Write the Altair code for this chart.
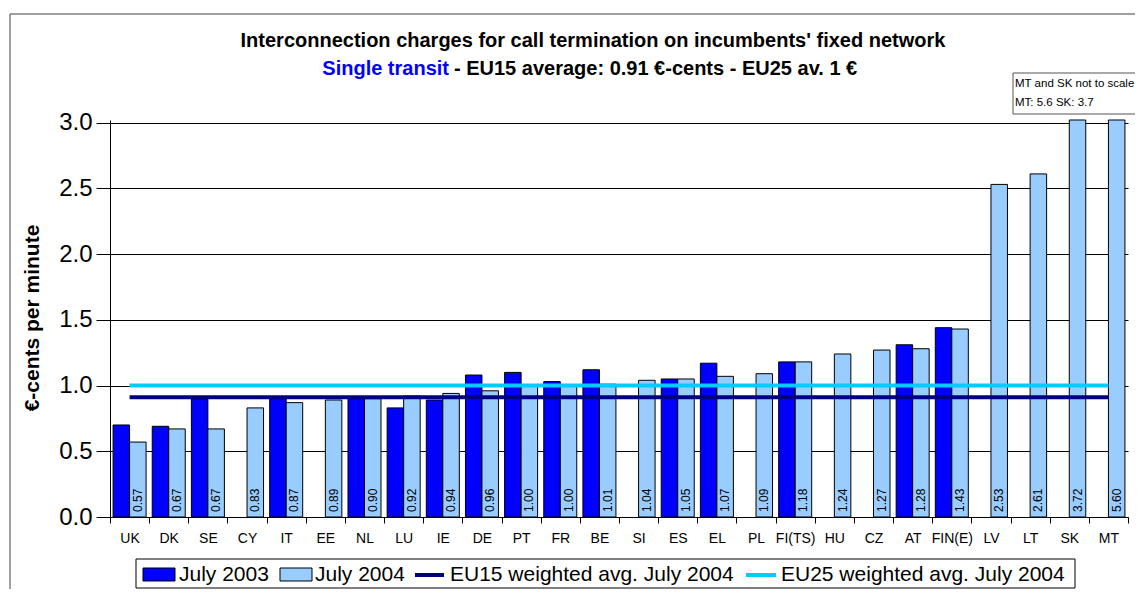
import altair as alt
import pandas as pd

countries = ["UK", "DK", "SE", "CY", "IT", "EE", "NL", "LU", "IE", "DE", "PT", "FR", "BE",
             "SI", "ES", "EL", "PL", "FI(TS)", "HU", "CZ", "AT", "FIN(E)", "LV", "LT", "SK", "MT"]
july_2003 = [0.70, 0.69, 0.90, None, 0.90, None, 0.90, 0.83, 0.89, 1.08, 1.10, 1.03, 1.12,
             None, 1.05, 1.17, None, 1.18, None, None, 1.31, 1.44, None, None, None, None]
july_2004 = [0.57, 0.67, 0.67, 0.83, 0.87, 0.89, 0.90, 0.92, 0.94, 0.96, 1.00, 1.00, 1.01,
             1.04, 1.05, 1.07, 1.09, 1.18, 1.24, 1.27, 1.28, 1.43, 2.53, 2.61, 3.72, 5.60]
years = ["July 2003", "July 2004"]
eu15_avg = 0.91
eu25_avg = 1.00
y_ticks = [0.0, 0.5, 1.0, 1.5, 2.0, 2.5, 3.0]
title_line = "Interconnection charges for call termination on incumbents' fixed network"
subtitle_blue = "Single transit"
subtitle_rest = "- EU15 average: 0.91 \u20ac-cents - EU25 av. 1 \u20ac"
note_lines = ["MT and SK not to scale", "MT: 5.6 SK: 3.7"]
legend_labels = ["July 2003", "July 2004", "EU15 weighted avg. July 2004", "EU25 weighted avg. July 2004"]

FONT = "Liberation Sans"
C2003 = "#0000FF"
C2004 = "#99CCFF"
CEU15 = "#000080"
CEU25 = "#00CCFF"

rows = []
for c, a, b in zip(countries, july_2003, july_2004):
    if a is not None:
        rows.append({"country": c, "year": years[0], "value": a})
    rows.append({"country": c, "year": years[1], "value": b})
bars_df = pd.DataFrame(rows)
lab_df = pd.DataFrame({"country": countries, "year": years[1], "value": july_2004})
avg_df = pd.DataFrame({
    "country": countries * 2,
    "series": [legend_labels[2]] * len(countries) + [legend_labels[3]] * len(countries),
    "value": [eu15_avg] * len(countries) + [eu25_avg] * len(countries),
})

x_axis = alt.Axis(title=None, labelAngle=0, labelFontSize=14, labelFont=FONT,
                  labelColor="black", tickBand="extent", tickSize=6,
                  tickColor="black", domainColor="black", labelPadding=8)
y_axis = alt.Axis(values=y_ticks, format=".1f", title=None, labelFontSize=24,
                  labelFont=FONT, labelColor="black", tickSize=14, tickColor="black",
                  domainColor="black", gridColor="black", grid=True, labelPadding=4)
x_scale = alt.Scale(paddingInner=0, paddingOuter=0)
y_scale = alt.Scale(domain=[0, 3.02], clamp=True, nice=False, zero=True)

bars = alt.Chart(bars_df).mark_bar(stroke="black", strokeWidth=1).encode(
    x=alt.X("country:N", sort=countries, scale=x_scale, axis=x_axis),
    xOffset=alt.XOffset("year:N", sort=years,
                        scale=alt.Scale(paddingInner=0, paddingOuter=0.186)),
    y=alt.Y("value:Q", scale=y_scale, axis=y_axis),
    color=alt.Color("year:N", scale=alt.Scale(domain=years, range=[C2003, C2004]), legend=None),
)

vlabels = alt.Chart(lab_df).mark_text(angle=270, align="left", baseline="middle",
                                      fontSize=12, font=FONT, color="black").encode(
    x=alt.X("country:N", sort=countries, scale=x_scale, axis=x_axis),
    xOffset=alt.XOffset("year:N", sort=years),
    y=alt.value(392),
    text=alt.Text("value:Q", format=".2f"),
)

avg_lines = alt.Chart(avg_df).mark_line(strokeWidth=4).encode(
    x=alt.X("country:N", sort=countries, scale=x_scale, axis=x_axis),
    y=alt.Y("value:Q", scale=y_scale, axis=y_axis),
    color=alt.Color("series:N", scale=alt.Scale(domain=legend_labels[2:], range=[CEU15, CEU25]),
                    legend=None),
    detail="series:N",
)


def txt(text, x, y, size, weight="normal", color="black", align="left", angle=0):
    return alt.Chart(pd.DataFrame({"t": [text]})).mark_text(
        align=align, baseline="middle", fontSize=size, fontWeight=weight, color=color,
        font=FONT, angle=angle).encode(x=alt.value(x), y=alt.value(y), text="t:N")


def box(x, x2, y, y2, fill="white", stroke="black", fill_opacity=1):
    return alt.Chart(pd.DataFrame({"a": [0]})).mark_rect(
        fill=fill, fillOpacity=fill_opacity, stroke=stroke, strokeWidth=1).encode(
        x=alt.value(x), x2=alt.value(x2), y=alt.value(y), y2=alt.value(y2))


def hline(x, x2, y, color, width):
    return alt.Chart(pd.DataFrame({"a": [0]})).mark_rule(
        color=color, strokeWidth=width).encode(
        x=alt.value(x), x2=alt.value(x2), y=alt.value(y))


outer = box(-100, 1100, -106, 520, fill="white", stroke="#404040", fill_opacity=0)

annotations = [
    txt(title_line, 483, -79, 20, weight="bold", align="center"),
    txt(subtitle_blue, 339, -51, 20, weight="bold", color=C2003, align="right"),
    txt(subtitle_rest, 344, -51, 20, weight="bold", align="left"),
    txt("\u20ac-cents per minute", -77, 198, 21, weight="bold", align="center", angle=270),
    box(903, 1040, -47, -6, stroke="#555555"),
    txt(note_lines[0], 905, -36, 11.5),
    txt(note_lines[1], 905, -17, 11.5),
    box(26, 965, 439, 468),
    box(33, 65, 448, 461, fill=C2003),
    txt(legend_labels[0], 69, 455, 21),
    box(170, 202, 448, 461, fill=C2004),
    txt(legend_labels[1], 205, 455, 21),
    hline(305, 334, 455, CEU15, 4),
    txt(legend_labels[2], 340, 455, 21),
    hline(636, 666, 455, CEU25, 4),
    txt(legend_labels[3], 671, 455, 21),
]

chart = alt.layer(outer, bars, avg_lines, vlabels, *annotations).resolve_scale(
    color="independent"
).properties(
    width=1018, height=397,
    padding={"left": 102, "top": 112, "right": 7, "bottom": 72},
    autosize=alt.AutoSizeParams(type="none"),
    background="white",
).configure_view(strokeWidth=0)

chart.save("out.html", embed_options={"renderer": "svg", "actions": False})
